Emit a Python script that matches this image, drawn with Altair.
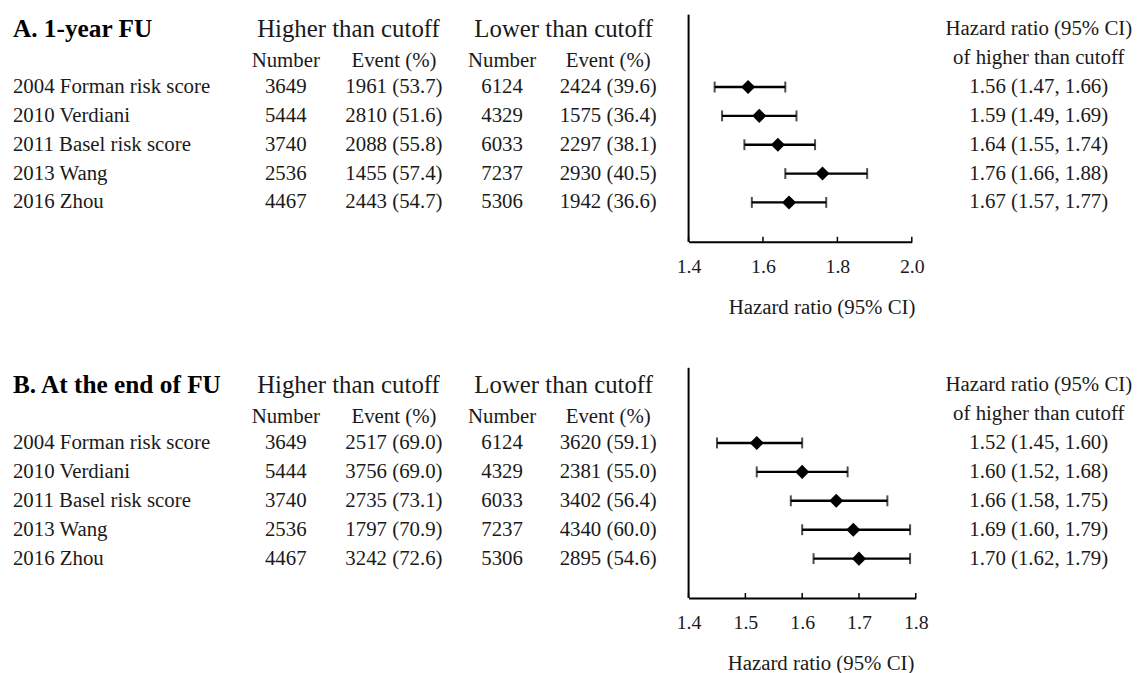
import altair as alt
import pandas as pd

# ---------------- data ----------------
studies = ["2004 Forman risk score", "2010 Verdiani", "2011 Basel risk score",
           "2013 Wang", "2016 Zhou"]
num_hi = [3649, 5444, 3740, 2536, 4467]
num_lo = [6124, 4329, 6033, 7237, 5306]

# Panel A: 1-year follow-up
ev_hi_A = [1961, 2810, 2088, 1455, 2443]
pct_hi_A = [53.7, 51.6, 55.8, 57.4, 54.7]
ev_lo_A = [2424, 1575, 2297, 2930, 1942]
pct_lo_A = [39.6, 36.4, 38.1, 40.5, 36.6]
hr_A = [1.56, 1.59, 1.64, 1.76, 1.67]
ci_lo_A = [1.47, 1.49, 1.55, 1.66, 1.57]
ci_hi_A = [1.66, 1.69, 1.74, 1.88, 1.77]
ticks_A = [1.4, 1.6, 1.8, 2.0]

# Panel B: end of follow-up
ev_hi_B = [2517, 3756, 2735, 1797, 3242]
pct_hi_B = [69.0, 69.0, 73.1, 70.9, 72.6]
ev_lo_B = [3620, 2381, 3402, 4340, 2895]
pct_lo_B = [59.1, 55.0, 56.4, 60.0, 54.6]
hr_B = [1.52, 1.60, 1.66, 1.69, 1.70]
ci_lo_B = [1.45, 1.52, 1.58, 1.60, 1.62]
ci_hi_B = [1.60, 1.68, 1.75, 1.79, 1.79]
ticks_B = [1.4, 1.5, 1.6, 1.7, 1.8]

# ---------------- style ----------------
FONT = "Liberation Serif"
INK = "#1a1a1a"
W = 1125
COL_DOMAIN = [0, 1, 2, 3, 4, 5]
COL_RANGE = [-2, 273, 382, 491, 598, 1032]


def panel(title, ev_hi, pct_hi, ev_lo, pct_lo, hr, lo, hi, ticks,
          x_domain, x_range, height, y_domain, title_x):
    rows = list(range(len(studies)))
    ysc = alt.Scale(domain=y_domain, reverse=True, nice=False, zero=False)
    csc = alt.Scale(domain=COL_DOMAIN, range=COL_RANGE, nice=False, zero=False)

    labels = pd.DataFrame({"row": rows, "col": 0, "text": studies})
    cells = []
    for i in rows:
        cells += [
            {"row": i, "col": 1, "text": str(num_hi[i])},
            {"row": i, "col": 2, "text": f"{ev_hi[i]} ({pct_hi[i]:.1f})"},
            {"row": i, "col": 3, "text": str(num_lo[i])},
            {"row": i, "col": 4, "text": f"{ev_lo[i]} ({pct_lo[i]:.1f})"},
            {"row": i, "col": 5, "text": f"{hr[i]:.2f} ({lo[i]:.2f}, {hi[i]:.2f})"},
        ]
    cells += [
        {"row": -0.9, "col": 1, "text": "Number"},
        {"row": -0.9, "col": 2, "text": "Event (%)"},
        {"row": -0.9, "col": 3, "text": "Number"},
        {"row": -0.9, "col": 4, "text": "Event (%)"},
        {"row": -2, "col": 5, "text": "Hazard ratio (95% CI)"},
        {"row": -1, "col": 5, "text": "of higher than cutoff"},
    ]
    cells = pd.DataFrame(cells)
    heads = pd.DataFrame({"row": [-2, -2], "col": [1.58, 3.58],
                          "text": ["Higher than cutoff", "Lower than cutoff"]})
    ttl = pd.DataFrame({"row": [-2], "col": [0], "text": [title]})

    def enc(ch):
        return ch.encode(
            x=alt.X("col:Q", scale=csc, axis=None),
            y=alt.Y("row:Q", scale=ysc, axis=None),
            text="text:N",
        )

    t_labels = enc(alt.Chart(labels).mark_text(
        align="left", baseline="middle", font=FONT, fontSize=21, color=INK))
    t_cells = enc(alt.Chart(cells).mark_text(
        align="center", baseline="middle", font=FONT, fontSize=21, color=INK))
    t_heads = enc(alt.Chart(heads).mark_text(
        align="center", baseline="middle", font=FONT, fontSize=25, color=INK))
    t_title = enc(alt.Chart(ttl).mark_text(
        align="left", baseline="middle", font=FONT, fontSize=25.5,
        fontWeight="bold", color="#000"))
    table = alt.layer(t_labels, t_cells, t_heads, t_title)

    forest_df = pd.DataFrame({"row": rows, "hr": hr, "lo": lo, "hi": hi})
    tick_df = pd.DataFrame({"tick": ticks})
    xsc = alt.Scale(domain=x_domain, range=x_range, nice=False, zero=False)
    axis = alt.Axis(values=ticks, format=".1f", orient="bottom",
                    title="Hazard ratio (95% CI)", grid=False, ticks=False,
                    domainColor="#000", domainWidth=2, labelFlush=False,
                    labelOverlap=False, labelFont=FONT, labelFontSize=20,
                    labelColor=INK, labelPadding=15, titleFont=FONT,
                    titleFontSize=21, titleFontWeight="normal", titleColor=INK,
                    titlePadding=20, titleX=title_x)
    base = alt.Chart(forest_df)
    err = base.mark_rule(color="#000", strokeWidth=2.4).encode(
        x=alt.X("lo:Q", scale=xsc, axis=axis), x2="hi:Q",
        y=alt.Y("row:Q", scale=ysc, axis=None))
    cap_lo = base.mark_tick(orient="vertical", color="#000", size=11,
                            thickness=2).encode(
        x=alt.X("lo:Q", scale=xsc), y=alt.Y("row:Q", scale=ysc))
    cap_hi = base.mark_tick(orient="vertical", color="#000", size=11,
                            thickness=2).encode(
        x=alt.X("hi:Q", scale=xsc), y=alt.Y("row:Q", scale=ysc))
    dia = base.mark_point(shape="diamond", filled=True, color="#000", size=200,
                          opacity=1).encode(
        x=alt.X("hr:Q", scale=xsc), y=alt.Y("row:Q", scale=ysc))
    vline = alt.Chart(pd.DataFrame({"v": [x_domain[0]]})).mark_rule(
        color="#000", strokeWidth=2).encode(x=alt.X("v:Q", scale=xsc))
    tks = alt.Chart(tick_df).mark_rule(color="#000", strokeWidth=1.5).encode(
        x=alt.X("tick:Q", scale=xsc),
        y=alt.value(height - 5), y2=alt.value(height))
    forest = alt.layer(err, cap_lo, cap_hi, dia, vline, tks)

    return alt.layer(table, forest).resolve_scale(x="independent").properties(
        width=W, height=height)


pA = panel("A. 1-year FU", ev_hi_A, pct_hi_A, ev_lo_A, pct_lo_A,
           hr_A, ci_lo_A, ci_hi_A, ticks_A,
           [1.4, 2.0], [679, 904], 229, [-2.51, 5.365], 813)
pB = panel("B. At the end of FU", ev_hi_B, pct_hi_B, ev_lo_B, pct_lo_B,
           hr_B, ci_lo_B, ci_hi_B, ticks_B,
           [1.4, 1.8], [679, 908], 232, [-2.6, 5.36], 812)

chart = alt.vconcat(pA, pB, spacing=50).properties(
    padding={"left": 5, "top": 3, "right": 5, "bottom": 0}
).configure(background="white").configure_view(stroke=None)

chart.save("out.html", embed_options={"renderer": "svg", "actions": False})
